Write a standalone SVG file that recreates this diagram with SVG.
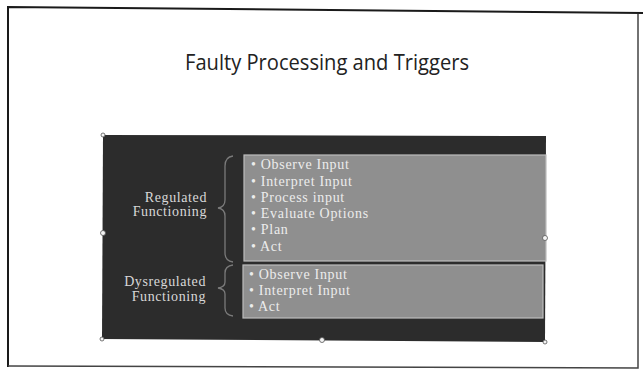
<svg xmlns="http://www.w3.org/2000/svg" width="643" height="370" viewBox="0 0 643 370">
<style>
.item{font-family:"Liberation Serif","DejaVu Serif",serif;font-size:14px;fill:#ececec;letter-spacing:0.7px}
.lab{font-family:"Liberation Serif","DejaVu Serif",serif;font-size:14px;fill:#d8d8d8;text-anchor:end;letter-spacing:0.6px}
.box{fill:#8f8f8f;stroke:#bdbdbd;stroke-width:1.2}
.brace{fill:none;stroke:#7a7a7a;stroke-width:1.3}
.handle{fill:#f4f4f4;stroke:#555;stroke-width:0.8}
</style>
<rect x="0" y="0" width="643" height="370" fill="#ffffff"/>
<path d="M8,367 L8,7 L643,13" fill="none" stroke="#1a1a1a" stroke-width="2"/>
<path d="M8,366 L638,368 L638,14" fill="none" stroke="#444" stroke-width="1.5"/>
<text x="327" y="70" font-family="'Open Sans','Noto Sans',sans-serif" font-size="21" fill="#222" text-anchor="middle" textLength="284" lengthAdjust="spacingAndGlyphs">Faulty Processing and Triggers</text>
<g id="panel">
<polygon points="103,135 546,136 545,342 102,339" fill="#2c2c2c"/>
</g>
<g id="regulated-box">
<rect class="box" x="244" y="155" width="302" height="106"/>
<text class="item" x="251" y="169">• Observe Input</text>
<text class="item" x="251" y="186">• Interpret Input</text>
<text class="item" x="251" y="202">• Process input</text>
<text class="item" x="251" y="218">• Evaluate Options</text>
<text class="item" x="251" y="234">• Plan</text>
<text class="item" x="251" y="251">• Act</text>
</g>
<g id="dysregulated-box">
<rect class="box" x="243" y="265" width="300" height="53"/>
<text class="item" x="249" y="279">• Observe Input</text>
<text class="item" x="249" y="295">• Interpret Input</text>
<text class="item" x="249" y="311">• Act</text>
</g>
<g id="regulated-label">
<text class="lab" x="207" y="202">Regulated</text>
<text class="lab" x="207" y="216">Functioning</text>
</g>
<g id="dysregulated-label">
<text class="lab" x="206" y="286">Dysregulated</text>
<text class="lab" x="206" y="301">Functioning</text>
</g>
<g id="connectors">
<path class="brace" d="M233,156 Q225,157 225,166 L225,200 Q225,207 218,208 Q225,209 225,216 L225,253 Q225,261 233,262"/>
<path class="brace" d="M233,265 Q225,266 225,273 L225,282 Q225,287 218,288 Q225,289 225,294 L225,308 Q225,315 233,316"/>
</g>
<g id="handles">
<circle class="handle" cx="103" cy="135" r="2"/>
<circle class="handle" cx="103" cy="233" r="2.5"/>
<circle class="handle" cx="102" cy="339" r="2"/>
<circle class="handle" cx="545" cy="238" r="2.5"/>
<circle class="handle" cx="545" cy="342" r="2"/>
<circle class="handle" cx="322" cy="340" r="2.5"/>
</g>
</svg>
